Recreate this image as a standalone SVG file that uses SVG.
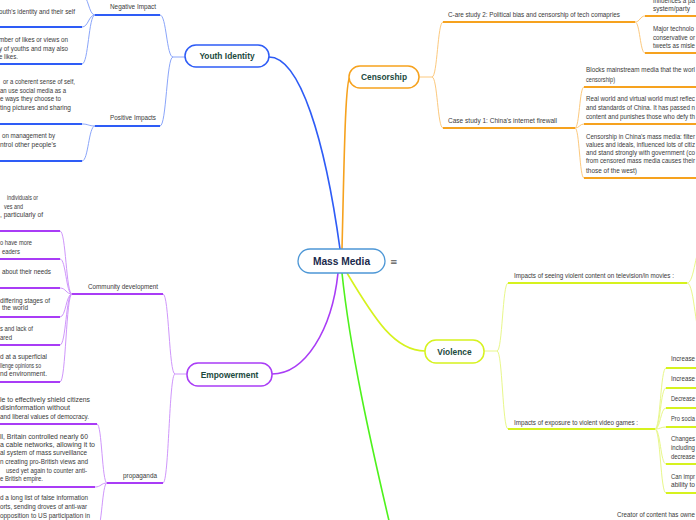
<svg xmlns="http://www.w3.org/2000/svg" width="696" height="520" viewBox="0 0 696 520">
<style>
.t{font-family:"Liberation Sans",Arial,sans-serif;font-size:6.8px;fill:#3a3a3a}
.n{font-family:"Liberation Sans",Arial,sans-serif;font-weight:bold;font-size:8.4px;fill:#1c4a3e;text-anchor:middle}
.box{fill:#fff;stroke-width:1.5}
path{fill:none}
.m{stroke-width:1.6}
.s{stroke-width:1}
.u{stroke-width:1.8}
.bm,.bu{stroke:#2e5cf6}.bs{stroke:#8aa5fa}
.om,.ou{stroke:#f6a21e}.os{stroke:#fcc97e}
.ym,.yu{stroke:#d6f21e}.ys{stroke:#e8f78a}
.pm,.pu{stroke:#a93cf6}.ps{stroke:#cf96fb}
.gm{stroke:#4ef21c}
</style>
<g id="connectors">
<path class="m bm" d="M269 57 C300 57 325 140 340 249"/>
<path class="s bs" d="M185 57 L173 57 M173 57 C166.5 57 166.5 15 160 15 M173 57 C166.5 57 166.5 126 160 126"/>
<path class="u bu" d="M95 15 L160 15 M95 126 L160 126"/>
<path class="s bs" d="M95 15 C88.5 15 88.5 -5 82 -5 M95 15 C88.5 15 88.5 27 82 27 M95 15 C88.5 15 88.5 64 82 64 M95 126 C88.5 126 88.5 124 82 124 M95 126 C88.5 126 88.5 161 82 161"/>
<path class="u bu" d="M-1 -5 L82 -5 M-1 27 L82 27 M-1 64 L82 64 M-1 124 L82 124 M-1 161 L82 161"/>

<path class="m om" d="M342 249 C344 170 345 80 350 77"/>
<path class="s os" d="M419 77 L432 77 M432 77 C437.5 77 437.5 22 443 22 M432 77 C437.5 77 437.5 128 443 128"/>
<path class="u ou" d="M443 22 L635 22 M443 128 L575 128"/>
<path class="s os" d="M635 22 C640 22 640 16 645 16 M635 22 C640 22 640 53 645 53 M575 128 C579.5 128 579.5 87 584 87 M575 128 C579.5 128 579.5 124 584 124 M575 128 C579.5 128 579.5 178 584 178"/>
<path class="u ou" d="M645 16 L700 16 M645 53 L700 53 M584 87 L700 87 M584 124 L700 124 M584 178 L700 178"/>

<path class="m ym" d="M347 273 C375 320 395 351 425 351"/>
<path class="s ys" d="M484 351 L497 351 M497 351 C502.5 351 502.5 283 508 283 M497 351 C502.5 351 502.5 429 508 429"/>
<path class="u yu" d="M508 283 L687 283 M508 429 L655 429"/>
<path class="s ys" d="M687 283 C695 283 695 245 703 245 M687 283 C695 283 695 340 703 340 M655 429 C660.5 429 660.5 368 666 368 M655 429 C660.5 429 660.5 388 666 388 M655 429 C660.5 429 660.5 408 666 408 M655 429 C660.5 429 660.5 427 666 427 M655 429 C660.5 429 660.5 464 666 464 M655 429 C660.5 429 660.5 493 666 493"/>
<path class="u yu" d="M666 368 L700 368 M666 388 L700 388 M666 408 L700 408 M666 427 L700 427 M666 464 L700 464 M666 493 L700 493"/>

<path class="m pm" d="M338 273 C332 330 305 374 272 374"/>
<path class="s ps" d="M187 374 L175 374 M175 374 C169 374 169 294 163 294 M175 374 C169 374 169 483 163 483"/>
<path class="u pu" d="M72 294 L163 294 M107 483 L163 483"/>
<path class="s ps" d="M72 294 C66 294 66 231 60 231 M72 294 C66 294 66 259 60 259 M72 294 C66 294 66 288 60 288 M72 294 C66 294 66 317 60 317 M72 294 C66 294 66 345 60 345 M72 294 C66 294 66 382 60 382 M107 483 C102 483 102 424 97 424 M107 483 C101 483 101 487 95 487 M107 483 C102 483 102 530 97 530"/>
<path class="u pu" d="M-1 231 L60 231 M-1 259 L60 259 M-1 288 L60 288 M-1 317 L60 317 M-1 345 L60 345 M-1 382 L60 382 M-1 424 L97 424 M-1 487 L95 487"/>

<path class="m gm" d="M342 273 C350 350 370 440 390 525"/>
</g>

<g id="mass-media">
<rect x="298" y="249" width="87" height="24" rx="12" fill="#fff" stroke="#4d97d6" stroke-width="1.3"/>
<text x="341.5" y="265.3" text-anchor="middle" font-family="Liberation Sans,Arial,sans-serif" font-weight="bold" font-size="10.2" fill="#1a2a4c">Mass Media</text>
<text x="390" y="265" font-family="DejaVu Sans,sans-serif" font-size="9" fill="#555">≡</text>
</g>

<g id="youth-identity">
<rect class="box" x="185" y="45" width="84" height="22" rx="11" stroke="#2e5cf6"/>
<text class="n" x="227" y="59">Youth Identity</text>
</g>
<g id="negative-impact"><text class="t" x="110" y="9.3" textLength="46" lengthAdjust="spacingAndGlyphs">Negative Impact</text></g>
<g id="positive-impacts"><text class="t" x="110" y="120.3" textLength="46" lengthAdjust="spacingAndGlyphs">Positive Impacts</text></g>
<g id="yi-leaf1"><text class="t" x="-1" y="14.3" textLength="76" lengthAdjust="spacingAndGlyphs">outh's identity and their self</text></g>
<g id="yi-leaf2">
<text class="t" x="-1" y="42.3" textLength="69" lengthAdjust="spacingAndGlyphs">mber of likes or views on</text>
<text class="t" x="-1" y="51.3" textLength="69" lengthAdjust="spacingAndGlyphs">y of youths and may also</text>
<text class="t" x="-1" y="59.3" textLength="19" lengthAdjust="spacingAndGlyphs">e likes.</text>
</g>
<g id="yi-leaf3">
<text class="t" x="3" y="84.3" textLength="72" lengthAdjust="spacingAndGlyphs">or a coherent sense of self,</text>
<text class="t" x="0" y="93.3" textLength="66" lengthAdjust="spacingAndGlyphs">an use social media as a</text>
<text class="t" x="0" y="101.3" textLength="61" lengthAdjust="spacingAndGlyphs">e ways they choose to</text>
<text class="t" x="0" y="110.3" textLength="71" lengthAdjust="spacingAndGlyphs">ting pictures and sharing</text>
</g>
<g id="yi-leaf4">
<text class="t" x="2" y="138.3" textLength="53" lengthAdjust="spacingAndGlyphs">on management by</text>
<text class="t" x="0" y="147.3" textLength="56" lengthAdjust="spacingAndGlyphs">ntrol other people's</text>
</g>

<g id="censorship">
<rect class="box" x="349" y="66" width="70" height="22" rx="11" stroke="#f6a21e"/>
<text class="n" x="384" y="80">Censorship</text>
</g>
<g id="case-study-2"><text class="t" x="448" y="17.3" textLength="172" lengthAdjust="spacingAndGlyphs">C-are study 2: Political bias and censorship of tech comapries</text></g>
<g id="case-study-1"><text class="t" x="448" y="123.3" textLength="109" lengthAdjust="spacingAndGlyphs">Case study 1: China's internet firewall</text></g>
<g id="cs2-leaf1">
<text class="t" x="653" y="3" textLength="42" lengthAdjust="spacingAndGlyphs">influences a pa</text>
<text class="t" x="653" y="11.3" textLength="37" lengthAdjust="spacingAndGlyphs">system/party</text>
</g>
<g id="cs2-leaf2">
<text class="t" x="653" y="31.3" textLength="41" lengthAdjust="spacingAndGlyphs">Major technolo</text>
<text class="t" x="653" y="40.3" textLength="42" lengthAdjust="spacingAndGlyphs">conservative or</text>
<text class="t" x="653" y="48.3" textLength="42" lengthAdjust="spacingAndGlyphs">tweets as misle</text>
</g>
<g id="cs1-leaf1">
<text class="t" x="586" y="72.3" textLength="109" lengthAdjust="spacingAndGlyphs">Blocks mainstream media that the worl</text>
<text class="t" x="586" y="82.3" textLength="29" lengthAdjust="spacingAndGlyphs">censorship)</text>
</g>
<g id="cs1-leaf2">
<text class="t" x="586" y="101.3" textLength="109" lengthAdjust="spacingAndGlyphs">Real world and virtual world must reflec</text>
<text class="t" x="586" y="110.3" textLength="109" lengthAdjust="spacingAndGlyphs">and standards of China. It has passed n</text>
<text class="t" x="586" y="119.3" textLength="109" lengthAdjust="spacingAndGlyphs">content and punishes those who defy th</text>
</g>
<g id="cs1-leaf3">
<text class="t" x="586" y="139.3" textLength="109" lengthAdjust="spacingAndGlyphs">Censorship in China's mass media: filter</text>
<text class="t" x="586" y="147.3" textLength="109" lengthAdjust="spacingAndGlyphs">values and ideals, influenced lots of citiz</text>
<text class="t" x="586" y="155.3" textLength="109" lengthAdjust="spacingAndGlyphs">and stand strongly with government (co</text>
<text class="t" x="586" y="163.3" textLength="109" lengthAdjust="spacingAndGlyphs">from censored mass media causes their</text>
<text class="t" x="586" y="173.3" textLength="51" lengthAdjust="spacingAndGlyphs">those of the west)</text>
</g>

<g id="violence">
<rect class="box" x="425" y="340" width="59" height="23" rx="11" stroke="#d6f21e"/>
<text class="n" x="454.5" y="354.5">Violence</text>
</g>
<g id="impacts-tv"><text class="t" x="514" y="278.3" textLength="160" lengthAdjust="spacingAndGlyphs">Impacts of seeing violent content on television/in movies :</text></g>
<g id="impacts-games"><text class="t" x="514" y="425.3" textLength="124" lengthAdjust="spacingAndGlyphs">Impacts of exposure to violent video games :</text></g>
<g id="vg-leaf1"><text class="t" x="671" y="361.3" textLength="24" lengthAdjust="spacingAndGlyphs">Increase</text></g>
<g id="vg-leaf2"><text class="t" x="671" y="381.3" textLength="24" lengthAdjust="spacingAndGlyphs">Increase</text></g>
<g id="vg-leaf3"><text class="t" x="671" y="401.3" textLength="24" lengthAdjust="spacingAndGlyphs">Decrease</text></g>
<g id="vg-leaf4"><text class="t" x="671" y="421.3" textLength="24" lengthAdjust="spacingAndGlyphs">Pro socia</text></g>
<g id="vg-leaf5">
<text class="t" x="671" y="441.3" textLength="24" lengthAdjust="spacingAndGlyphs">Changes</text>
<text class="t" x="671" y="450.3" textLength="24" lengthAdjust="spacingAndGlyphs">including</text>
<text class="t" x="671" y="459.3" textLength="24" lengthAdjust="spacingAndGlyphs">decrease</text>
</g>
<g id="vg-leaf6">
<text class="t" x="671" y="479.3" textLength="24" lengthAdjust="spacingAndGlyphs">Can impr</text>
<text class="t" x="671" y="487.3" textLength="24" lengthAdjust="spacingAndGlyphs">ability to</text>
</g>

<g id="creator"><text class="t" x="617" y="517.3" textLength="78" lengthAdjust="spacingAndGlyphs">Creator of content has owne</text></g>

<g id="empowerment">
<rect class="box" x="187" y="363" width="85" height="23" rx="11" stroke="#a93cf6"/>
<text class="n" x="229.5" y="377.5">Empowerment</text>
</g>
<g id="community-development"><text class="t" x="88" y="289.3" textLength="70" lengthAdjust="spacingAndGlyphs">Community development</text></g>
<g id="propaganda"><text class="t" x="123" y="478.3" textLength="34" lengthAdjust="spacingAndGlyphs">propaganda</text></g>
<g id="cd-leaf1">
<text class="t" x="7" y="200.3" textLength="31" lengthAdjust="spacingAndGlyphs">individuals or</text>
<text class="t" x="4" y="209.3" textLength="19" lengthAdjust="spacingAndGlyphs">ves and</text>
<text class="t" x="0" y="217.3" textLength="43" lengthAdjust="spacingAndGlyphs">, particularly of</text>
</g>
<g id="cd-leaf2">
<text class="t" x="0" y="245.3" textLength="32" lengthAdjust="spacingAndGlyphs">o have more</text>
<text class="t" x="2" y="254.3" textLength="18" lengthAdjust="spacingAndGlyphs">eaders</text>
</g>
<g id="cd-leaf3"><text class="t" x="2" y="274.3" textLength="49" lengthAdjust="spacingAndGlyphs">about their needs</text></g>
<g id="cd-leaf4">
<text class="t" x="0" y="303.3" textLength="50" lengthAdjust="spacingAndGlyphs">differing stages of</text>
<text class="t" x="2" y="310.3" textLength="26" lengthAdjust="spacingAndGlyphs">the world</text>
</g>
<g id="cd-leaf5">
<text class="t" x="0" y="331.3" textLength="33" lengthAdjust="spacingAndGlyphs">s and lack of</text>
<text class="t" x="0" y="340.3" textLength="12" lengthAdjust="spacingAndGlyphs">ared</text>
</g>
<g id="cd-leaf6">
<text class="t" x="0" y="359.3" textLength="47" lengthAdjust="spacingAndGlyphs">d at a superficial</text>
<text class="t" x="0" y="368.3" textLength="41" lengthAdjust="spacingAndGlyphs">llenge opinions so</text>
<text class="t" x="0" y="376.3" textLength="47" lengthAdjust="spacingAndGlyphs">nd environment.</text>
</g>
<g id="pr-leaf1">
<text class="t" x="0" y="402.3" textLength="90" lengthAdjust="spacingAndGlyphs">le to effectively shield citizens</text>
<text class="t" x="0" y="410.3" textLength="70" lengthAdjust="spacingAndGlyphs">disinformation without</text>
<text class="t" x="0" y="419.3" textLength="89" lengthAdjust="spacingAndGlyphs">and liberal values of democracy.</text>
</g>
<g id="pr-leaf2">
<text class="t" x="0" y="439.3" textLength="88" lengthAdjust="spacingAndGlyphs">ll, Britain controlled nearly 60</text>
<text class="t" x="0" y="447.3" textLength="95" lengthAdjust="spacingAndGlyphs">a cable networks, allowing it to</text>
<text class="t" x="0" y="455.3" textLength="87" lengthAdjust="spacingAndGlyphs">al system of mass surveillance</text>
<text class="t" x="0" y="464.3" textLength="88" lengthAdjust="spacingAndGlyphs">n creating pro-British views and</text>
<text class="t" x="6" y="473.3" textLength="81" lengthAdjust="spacingAndGlyphs">used yet again to counter anti-</text>
<text class="t" x="0" y="481.3" textLength="43" lengthAdjust="spacingAndGlyphs">e British empire.</text>
</g>
<g id="pr-leaf3">
<text class="t" x="0" y="500.3" textLength="88" lengthAdjust="spacingAndGlyphs">d a long list of false information</text>
<text class="t" x="0" y="509.3" textLength="87" lengthAdjust="spacingAndGlyphs">orts, sending droves of anti-war</text>
<text class="t" x="0" y="518.3" textLength="90" lengthAdjust="spacingAndGlyphs">opposition to US participation in</text>
</g>
</svg>
